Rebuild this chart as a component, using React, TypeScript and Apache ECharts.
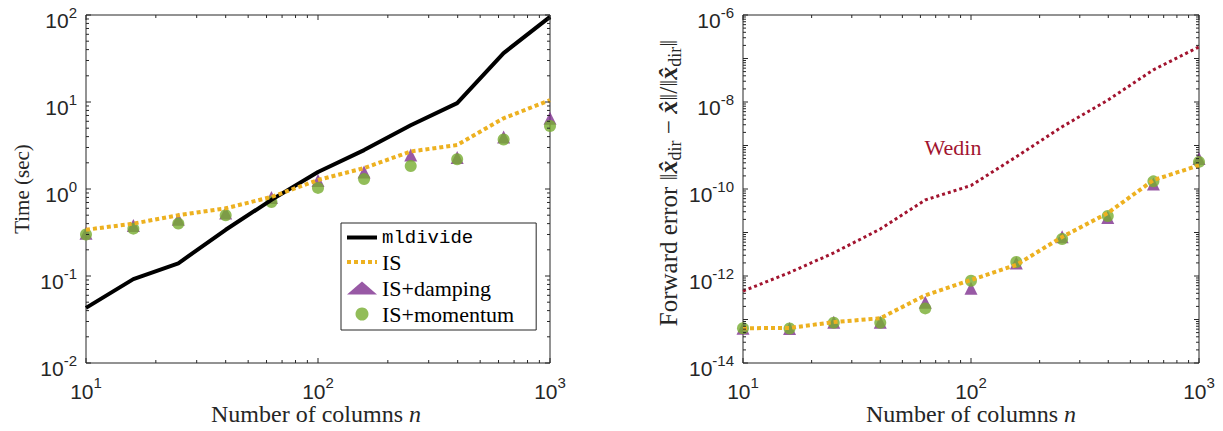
import React, { useEffect, useRef } from 'react';
import * as echarts from 'echarts';

// ---------- data ----------
const nValues = [10, 16, 25, 40, 63, 100, 158, 251, 398, 631, 1000];

// left panel: time (sec)
const timeMldivide = [0.043, 0.092, 0.14, 0.34, 0.75, 1.57, 2.8, 5.4, 9.7, 36.5, 95];
const timeIS = [0.34, 0.4, 0.5, 0.6, 0.81, 1.27, 1.74, 2.7, 3.2, 6.5, 10.5];
const timeDamping = [0.31, 0.38, 0.45, 0.53, 0.8, 1.25, 1.57, 2.46, 2.3, 3.96, 6.5];
const timeMomentum = [0.3, 0.35, 0.4, 0.5, 0.71, 1.03, 1.3, 1.84, 2.2, 3.7, 5.3];

// right panel: forward error
const errWedin = [4.5e-13, 1.2e-12, 3.4e-12, 1.2e-11, 5.6e-11, 1.2e-10, 5.5e-10, 2.7e-9, 1.1e-8, 5.5e-8, 1.85e-7];
const errIS = [6.3e-14, 6.4e-14, 8.7e-14, 1.07e-13, 3.6e-13, 8.1e-13, 1.8e-12, 7.9e-12, 2.8e-11, 1.6e-10, 3.5e-10];
const errDamping = [6.3e-14, 6.2e-14, 8.6e-14, 8.6e-14, 2.5e-13, 5.2e-13, 2.0e-12, 8.0e-12, 2.2e-11, 1.3e-10, 5.0e-10];
const errMomentum = [6.3e-14, 6.2e-14, 8.4e-14, 8.4e-14, 1.8e-13, 7.8e-13, 2.1e-12, 7.1e-12, 2.4e-11, 1.5e-10, 4.2e-10];

// axis ranges
const xRange = [10, 1000];
const yRangeLeft = [0.01, 100];
const yRangeRight = [1e-14, 1e-6];
// labelled decades (exponents) per axis
const xLabelExps = [1, 2, 3];
const yLabelExpsLeft = [-2, -1, 0, 1, 2];
const yLabelExpsRight = [-14, -12, -10, -8, -6];

// ---------- styles ----------
const AXIS_COLOR = '#262626';
const C_ORANGE = '#EDB120';
const C_PURPLE = '#7E2F8E';
const C_GREEN = '#77AC30';
const C_RED = '#A2142F';
const SERIF = '"Liberation Serif", "Times New Roman", serif';
const SANS = '"Liberation Sans", Arial, sans-serif';
const MONO = '"Liberation Mono", "DejaVu Sans Mono", monospace';
const BASE_PX = 21;
const EXP_PX = 15;

const zip = (xs: number[], ys: number[]) => xs.map((x, i) => [x, ys[i]]);

function logTicks(min: number, max: number) {
  const out: number[][] = [];
  const d0 = Math.round(Math.log10(min));
  const d1 = Math.round(Math.log10(max));
  for (let d = d0; d < d1; d++) {
    for (let m = 1; m <= 9; m++) {
      out.push([m * Math.pow(10, d), m === 1 ? 1 : 0]);
    }
  }
  out.push([max, 1]);
  return out;
}

// [x, y, major, axis(0=x,1=y)]
function tickItems(xr: number[], yr: number[]) {
  const items: number[][] = [];
  logTicks(xr[0], xr[1]).forEach(([v, major]) => items.push([v, yr[0], major, 0]));
  logTicks(yr[0], yr[1]).forEach(([v, major]) => items.push([xr[0], v, major, 1]));
  return items;
}

const renderTicks = (params: any, api: any) => {
  const cs = params.coordSys;
  const kind = api.value(3);
  const len = api.value(2) === 1 ? 5 : 3;
  const p = api.coord([api.value(0), api.value(1)]);
  const style = { stroke: AXIS_COLOR, lineWidth: 1 };
  if (kind === 0) {
    const x = p[0];
    return {
      type: 'group',
      children: [
        { type: 'line', shape: { x1: x, y1: cs.y + cs.height, x2: x, y2: cs.y + cs.height - len }, style },
        { type: 'line', shape: { x1: x, y1: cs.y, x2: x, y2: cs.y + len }, style },
      ],
    };
  }
  const y = p[1];
  return {
    type: 'group',
    children: [
      { type: 'line', shape: { x1: cs.x, y1: y, x2: cs.x + len, y2: y }, style },
      { type: 'line', shape: { x1: cs.x + cs.width, y1: y, x2: cs.x + cs.width - len, y2: y }, style },
    ],
  };
};

const logAxis = (gridIndex: number, range: number[]) => ({
  type: 'log',
  logBase: 10,
  gridIndex,
  min: range[0],
  max: range[1],
  axisLine: { show: false },
  axisTick: { show: false },
  splitLine: { show: false },
  minorTick: { show: false },
  axisLabel: { show: false },
});

const hiddenSymbol = { color: 'rgba(0,0,0,0)', borderWidth: 0, opacity: 0 };

// approximate Liberation Sans advance widths (em) for centring the power labels
const charEm = (s: string) => s.split('').reduce((w, c) => w + (c === '-' ? 0.333 : 0.556), 0);

export default function App() {
  const ref = useRef<HTMLDivElement>(null);

  useEffect(() => {
    if (!ref.current) return;
    const chart = echarts.init(ref.current, undefined, { renderer: 'svg' });

    const xLabelRich = {
      r: { fontFamily: SERIF, fontSize: 24, fill: AXIS_COLOR },
      i: { fontFamily: SERIF, fontSize: 24, fontStyle: 'italic', fill: AXIS_COLOR },
    };

    const baseGraphics: any[] = [
      {
        id: 'ylabelL', type: 'text', x: 22, y: 189, rotation: Math.PI / 2,
        style: { text: 'Time (sec)', font: `21px ${SERIF}`, fill: AXIS_COLOR, align: 'center', verticalAlign: 'middle' },
      },
      {
        id: 'xlabelL', type: 'text', x: 316, y: 414,
        style: { text: '{r|Number of columns }{i|n}', align: 'center', verticalAlign: 'middle', rich: xLabelRich },
      },
      {
        id: 'xlabelR', type: 'text', x: 971, y: 414,
        style: { text: '{r|Number of columns }{i|n}', align: 'center', verticalAlign: 'middle', rich: xLabelRich },
      },
      {
        id: 'ylabelR', type: 'text', x: 668, y: 183, rotation: Math.PI / 2,
        style: {
          text: '{r|Forward error }{n|‖}{x|x\u0302}{s|dir}{n| − }{x|x\u0302}{n|‖/‖}{x|x\u0302}{s|dir}{n|‖}',
          align: 'center', verticalAlign: 'middle',
          rich: {
            r: { fontFamily: SERIF, fontSize: 25, fill: AXIS_COLOR, lineHeight: 32 },
            n: { fontFamily: SERIF, fontSize: 25, fill: AXIS_COLOR, lineHeight: 32 },
            x: { fontFamily: SERIF, fontSize: 26, fontStyle: 'italic', fontWeight: 'bold', fill: AXIS_COLOR, lineHeight: 32 },
            s: { fontFamily: SERIF, fontSize: 18, fill: AXIS_COLOR, lineHeight: 18, verticalAlign: 'bottom' },
          },
        },
      },
      {
        id: 'wedin', type: 'text', x: 953, y: 147,
        style: { text: 'Wedin', font: `22px ${SERIF}`, fill: C_RED, align: 'center', verticalAlign: 'middle' },
      },
    ];

    const option: any = {
      animation: false,
      backgroundColor: '#ffffff',
      grid: [
        { left: 86, top: 15, width: 464, height: 348, show: true, borderColor: AXIS_COLOR, borderWidth: 1, backgroundColor: 'transparent' },
        { left: 743, top: 15, width: 456, height: 348, show: true, borderColor: AXIS_COLOR, borderWidth: 1, backgroundColor: 'transparent' },
      ],
      xAxis: [logAxis(0, xRange), logAxis(1, xRange)],
      yAxis: [logAxis(0, yRangeLeft), logAxis(1, yRangeRight)],
      legend: {
        data: [
          { name: 'mldivide', itemStyle: hiddenSymbol, lineStyle: { width: 4, color: '#000000', type: 'solid' } },
          { name: 'IS', itemStyle: hiddenSymbol, lineStyle: { width: 4, color: C_ORANGE, type: [4, 3] } },
          { name: 'IS+damping', icon: 'triangle' },
          { name: 'IS+momentum', icon: 'circle' },
        ],
        orient: 'vertical',
        left: 341,
        top: 223,
        padding: [5, 22, 5, 4],
        itemGap: 4,
        itemWidth: 30,
        itemHeight: 13,
        symbolKeepAspect: true,
        backgroundColor: '#ffffff',
        borderColor: AXIS_COLOR,
        borderWidth: 1,
        borderRadius: 0,
        selectedMode: false,
        formatter: (name: string) => (name === 'mldivide' ? `{m|${name}}` : `{s|${name}}`),
        textStyle: {
          rich: {
            m: { fontFamily: MONO, fontSize: 19, color: '#000', lineHeight: 22 },
            s: { fontFamily: SERIF, fontSize: 22, color: '#000', lineHeight: 22 },
          },
        },
      },
      graphic: baseGraphics,
      series: [
        // left panel
        {
          type: 'line', name: 'mldivide', xAxisIndex: 0, yAxisIndex: 0,
          data: zip(nValues, timeMldivide), symbol: 'none',
          lineStyle: { color: '#000000', width: 4 }, itemStyle: { color: '#000000' },
        },
        {
          type: 'line', name: 'IS', xAxisIndex: 0, yAxisIndex: 0,
          data: zip(nValues, timeIS), symbol: 'none',
          lineStyle: { color: C_ORANGE, width: 4, type: [4, 3] }, itemStyle: { color: C_ORANGE },
        },
        {
          type: 'scatter', name: 'IS+damping', xAxisIndex: 0, yAxisIndex: 0,
          data: zip(nValues, timeDamping), symbol: 'triangle', symbolSize: 13,
          itemStyle: { color: C_PURPLE },
        },
        {
          type: 'scatter', name: 'IS+momentum', xAxisIndex: 0, yAxisIndex: 0,
          data: zip(nValues, timeMomentum), symbol: 'circle', symbolSize: 12,
          itemStyle: { color: C_GREEN },
        },
        // right panel
        {
          type: 'line', name: 'Wedin', xAxisIndex: 1, yAxisIndex: 1,
          data: zip(nValues, errWedin), symbol: 'none',
          lineStyle: { color: C_RED, width: 3, type: [3, 3] }, itemStyle: { color: C_RED },
        },
        {
          type: 'line', name: 'IS', xAxisIndex: 1, yAxisIndex: 1,
          data: zip(nValues, errIS), symbol: 'none',
          lineStyle: { color: C_ORANGE, width: 4, type: [4, 3] }, itemStyle: { color: C_ORANGE },
        },
        {
          type: 'scatter', name: 'IS+damping', xAxisIndex: 1, yAxisIndex: 1,
          data: zip(nValues, errDamping), symbol: 'triangle', symbolSize: 13,
          itemStyle: { color: C_PURPLE },
        },
        {
          type: 'scatter', name: 'IS+momentum', xAxisIndex: 1, yAxisIndex: 1,
          data: zip(nValues, errMomentum), symbol: 'circle', symbolSize: 12,
          itemStyle: { color: C_GREEN },
        },
        // tick marks (all four sides, major + minor)
        {
          type: 'custom', name: 'ticksLeft', xAxisIndex: 0, yAxisIndex: 0,
          data: tickItems(xRange, yRangeLeft), renderItem: renderTicks, silent: true, clip: false, z: 5,
        },
        {
          type: 'custom', name: 'ticksRight', xAxisIndex: 1, yAxisIndex: 1,
          data: tickItems(xRange, yRangeRight), renderItem: renderTicks, silent: true, clip: false, z: 5,
        },
      ],
    };

    chart.setOption(option);

    // tick labels (plain texts: base "10" + exponent) placed through the axes' own scales
    const gridBottom = 15 + 348;
    const gridLefts = [86, 743];
    const baseW = charEm('10') * BASE_PX;
    const labelGraphics: any[] = [];
    const txt = (id: string, x: number, y: number, text: string, px: number, align: string) => ({
      id, type: 'text', x, y, silent: true,
      style: { text, font: `${px}px ${SANS}`, fill: AXIS_COLOR, align, verticalAlign: 'middle' },
    });
    [0, 1].forEach((gi) => {
      xLabelExps.forEach((e) => {
        const px = chart.convertToPixel({ xAxisIndex: gi } as any, Math.pow(10, e)) as unknown as number;
        const es = String(e);
        const expW = charEm(es) * EXP_PX;
        const left = px - (baseW + expW) / 2;
        labelGraphics.push(txt(`xb${gi}_${e}`, left, gridBottom + 28, '10', BASE_PX, 'left'));
        labelGraphics.push(txt(`xe${gi}_${e}`, left + baseW, gridBottom + 19, es, EXP_PX, 'left'));
      });
      const yExps = gi === 0 ? yLabelExpsLeft : yLabelExpsRight;
      yExps.forEach((e) => {
        const py = chart.convertToPixel({ yAxisIndex: gi } as any, Math.pow(10, e)) as unknown as number;
        const es = String(e);
        const expW = charEm(es) * EXP_PX;
        const right = gridLefts[gi] - 9;
        labelGraphics.push(txt(`ye${gi}_${e}`, right, py - 3, es, EXP_PX, 'right'));
        labelGraphics.push(txt(`yb${gi}_${e}`, right - expW, py + 5, '10', BASE_PX, 'right'));
      });
    });
    chart.setOption({ graphic: [...baseGraphics, ...labelGraphics] });

    return () => chart.dispose();
  }, []);

  return (
    <div
      ref={ref}
      style={{ position: 'fixed', left: 0, top: 0, width: 1223, height: 431, background: '#fff' }}
    />
  );
}
